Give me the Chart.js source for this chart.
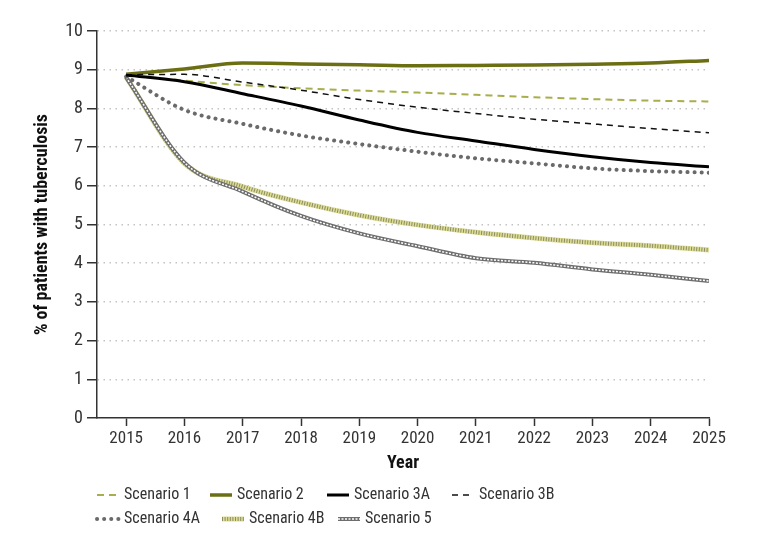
<!DOCTYPE html>
<html>
<head>
<meta charset="utf-8">
<title>Tuberculosis scenarios</title>
<script src="https://cdn.jsdelivr.net/npm/chart.js@4.4.1/dist/chart.umd.min.js"></script>
<style>
  html, body { margin: 0; padding: 0; background: #fff; }
  #wrap { width: 771px; height: 548px; }
</style>
</head>
<body>
<div id="wrap"><canvas id="tbChart" width="771" height="548"></canvas></div>
<script>
'use strict';

// ─── data ───
const years = [2015, 2016, 2017, 2018, 2019, 2020, 2021, 2022, 2023, 2024, 2025];
const yTicks = [0, 1, 2, 3, 4, 5, 6, 7, 8, 9, 10];

const scenario1  = [8.87, 8.72, 8.60, 8.52, 8.46, 8.41, 8.35, 8.29, 8.24, 8.20, 8.18];
const scenario2  = [8.88, 9.02, 9.17, 9.15, 9.13, 9.10, 9.11, 9.12, 9.14, 9.17, 9.24];
const scenario3A = [8.86, 8.69, 8.38, 8.06, 7.70, 7.38, 7.16, 6.94, 6.75, 6.60, 6.49];
const scenario3B = [8.87, 8.88, 8.68, 8.47, 8.23, 8.03, 7.87, 7.72, 7.60, 7.48, 7.37];
const scenario4A = [8.82, 7.96, 7.60, 7.30, 7.08, 6.88, 6.71, 6.58, 6.45, 6.38, 6.34];
const scenario4B = [8.80, 6.58, 5.98, 5.57, 5.24, 4.99, 4.80, 4.65, 4.53, 4.45, 4.34];
const scenario5  = [8.80, 6.60, 5.85, 5.22, 4.77, 4.44, 4.13, 4.01, 3.84, 3.70, 3.54];

const FONT = "'Liberation Sans Narrow', 'Roboto Condensed', 'DejaVu Sans Condensed', 'Liberation Sans', sans-serif";
const TEXT = '#333333';

const pts = vals => years.map((y, i) => ({ x: y, y: vals[i] }));

// line styles; layers let the two patterned lines be drawn as base + overlay
const styles = {
  s1:  [{ color: '#a9ae4c', width: 2, dash: [7, 5] }],
  s2:  [{ color: '#6b6e12', width: 3.5, dash: [] }],
  s3A: [{ color: '#000000', width: 3, dash: [] }],
  s3B: [{ color: '#111111', width: 1.5, dash: [6, 5] }],
  s4A: [{ color: '#6a6a6a', width: 4, dash: [0.1, 7], cap: 'round' }],
  s4B: [{ color: '#dcdd96', width: 5, dash: [] }, { color: '#8c8b62', width: 4, dash: [1, 1.6] }],
  s5:  [{ color: '#6e6e6e', width: 4, dash: [] }, { color: '#ffffff', width: 1.5, dash: [2, 1.5] }],
};

const series = [
  { key: 's1',  label: 'Scenario 1',  data: scenario1 },
  { key: 's2',  label: 'Scenario 2',  data: scenario2 },
  { key: 's3A', label: 'Scenario 3A', data: scenario3A },
  { key: 's3B', label: 'Scenario 3B', data: scenario3B },
  { key: 's4A', label: 'Scenario 4A', data: scenario4A },
  { key: 's4B', label: 'Scenario 4B', data: scenario4B },
  { key: 's5',  label: 'Scenario 5',  data: scenario5 },
];

// draw order: patterned lines underneath, black lines on top
const drawOrder = { s1: 4, s2: 3, s3A: 1, s3B: 2, s4A: 5, s4B: 8, s5: 6 };

const datasets = [];
series.forEach(s => {
  styles[s.key].forEach((layer, li) => {
    datasets.push({
      label: li === 0 ? s.label : s.label + ' overlay',
      data: pts(s.data),
      borderColor: layer.color,
      borderWidth: layer.width,
      borderDash: layer.dash,
      borderCapStyle: layer.cap || 'butt',
      borderJoinStyle: 'round',
      cubicInterpolationMode: 'monotone',
      pointRadius: 0,
      pointHoverRadius: 0,
      fill: false,
      order: drawOrder[s.key] * 2 - li,
    });
  });
});

// ─── legend drawn by hand so the patterned samples match ───
const legendRows = [
  { y: 495, items: [['s1', 97], ['s2', 210], ['s3A', 327], ['s3B', 452]] },
  { y: 519, items: [['s4A', 97], ['s4B', 222], ['s5', 338]] },
];

const patternLegend = {
  id: 'patternLegend',
  afterDraw(chart) {
    const ctx = chart.ctx;
    const labelOf = {};
    series.forEach(s => { labelOf[s.key] = s.label; });
    ctx.save();
    ctx.font = '16px ' + FONT;
    ctx.textBaseline = 'middle';
    ctx.fillStyle = TEXT;
    legendRows.forEach(row => {
      row.items.forEach(([key, x]) => {
        styles[key].forEach(layer => {
          ctx.beginPath();
          ctx.strokeStyle = layer.color;
          ctx.lineWidth = layer.width;
          ctx.setLineDash(layer.dash);
          ctx.lineCap = layer.cap || 'butt';
          ctx.moveTo(x, row.y);
          ctx.lineTo(x + 22, row.y);
          ctx.stroke();
        });
        ctx.setLineDash([]);
        ctx.fillText(labelOf[key], x + 27, row.y);
      });
    });
    ctx.restore();
  },
};

new Chart(document.getElementById('tbChart'), {
  type: 'line',
  data: { datasets },
  plugins: [patternLegend],
  options: {
    responsive: false,
    animation: false,
    layout: { padding: { left: 28, right: 62, top: 31, bottom: 70 } },
    plugins: {
      legend: { display: false },
      tooltip: { enabled: false },
    },
    scales: {
      x: {
        type: 'linear',
        min: 2014.5,
        max: 2025,
        afterBuildTicks: scale => { scale.ticks = years.map(v => ({ value: v })); },
        afterFit: scale => { scale.height = 60; },
        grid: { drawOnChartArea: false, tickLength: 8, tickColor: TEXT, tickWidth: 1.5 },
        border: { color: TEXT, width: 1.5 },
        ticks: { color: TEXT, font: { family: FONT, size: 17 }, padding: 3, maxRotation: 0, callback: v => String(v) },
        title: { display: true, text: 'Year', color: '#111', font: { family: FONT, size: 18, weight: 'bold' }, padding: { top: 4 } },
      },
      y: {
        min: 0,
        max: 10,
        afterBuildTicks: scale => { scale.ticks = yTicks.map(v => ({ value: v })); },
        afterFit: scale => { scale.width = 69; },
        grid: {
          color: ctx => (ctx.tick && ctx.tick.value === 0 ? 'rgba(0,0,0,0)' : '#c4c4c4'),
          lineWidth: 1.5,
          tickLength: 10,
          tickColor: TEXT,
          tickWidth: 1.5,
          tickBorderDash: [],
        },
        border: { color: TEXT, width: 1.5, dash: [1.5, 4.5] },
        ticks: { color: TEXT, font: { family: FONT, size: 18 }, padding: 4 },
        title: { display: true, text: '% of patients with tuberculosis', color: '#111', font: { family: FONT, size: 18, weight: 'bold' }, padding: { top: 4 } },
      },
    },
  },
});
</script>
</body>
</html>
